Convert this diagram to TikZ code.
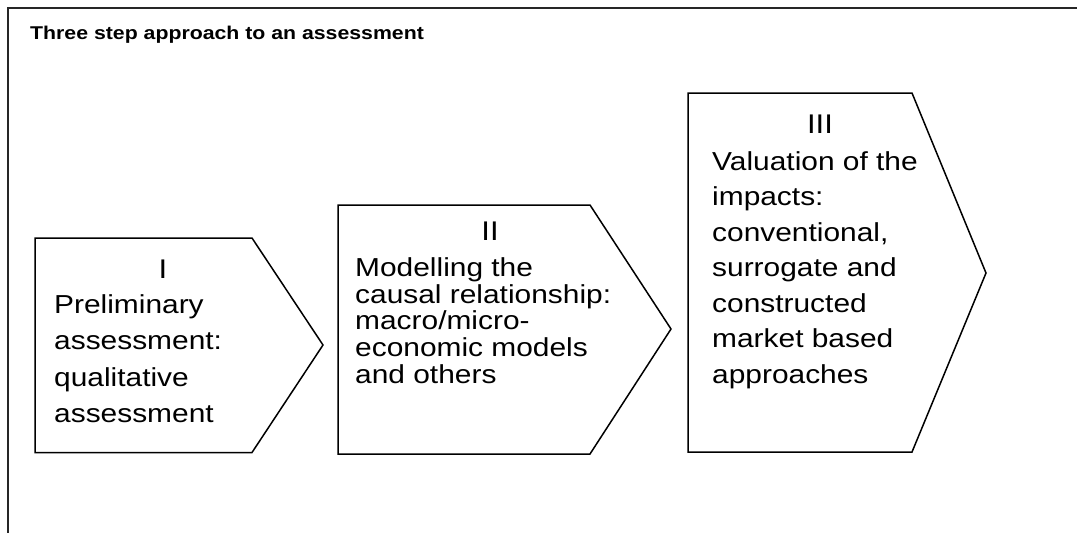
\documentclass[tikz,border=0pt]{standalone}
\usepackage{fontspec}
\setmainfont{Liberation Sans}[FakeStretch=1.15]

\tikzstyle{frame} = [line width=2pt, draw=black!85]
\tikzstyle{chevron} = [line width=1.5pt, draw=black, line join=miter]
\tikzstyle{numeral} = [anchor=base, inner sep=0pt, font=\fontsize{27}{30}\selectfont]
\tikzstyle{steptext} = [anchor=north west, align=left, inner sep=0pt]

\begin{document}
\begin{tikzpicture}[x=1pt, y=-1pt]
		\useasboundingbox (0,0) rectangle (1077,533);
		% Frame and title
		\draw [frame] (8,533) -- (8,8) -- (1077,8);
		\node (title) [anchor=base west, inner sep=0pt, font=\bfseries\fontsize{18.5}{22}\selectfont] at (30,39) {Three step approach to an assessment};
		% Chevrons
		\draw [chevron] (35,238) -- (252,238) -- (323,345) -- (252,452.5) -- (35,452.5) -- cycle;
		\draw [chevron] (338,205) -- (590,205) -- (671,329) -- (590,454) -- (338,454) -- cycle;
		\draw [chevron] (688,93) -- (912,93) -- (986,273) -- (912,452) -- (688,452) -- cycle;
		% Step I
		\node (num1) [numeral] at (163,278) {I};
		\node (step1) [steptext, font=\fontsize{26}{36.5}\selectfont] at (54,294.4) {Preliminary\\assessment:\\qualitative\\assessment};
		% Step II
		\node (num2) [numeral] at (490,240) {II};
		\node (step2) [steptext, font=\fontsize{26}{26.75}\selectfont] at (355,257.4) {Modelling the\\causal relationship:\\macro/micro-\\economic models\\and others};
		% Step III
		\node (num3) [numeral] at (820,133) {III};
		\node (step3) [steptext, font=\fontsize{26}{35.5}\selectfont] at (712,151.4) {Valuation of the\\impacts:\\conventional,\\surrogate and\\constructed\\market based\\approaches};
	\end{tikzpicture}
\end{document}
